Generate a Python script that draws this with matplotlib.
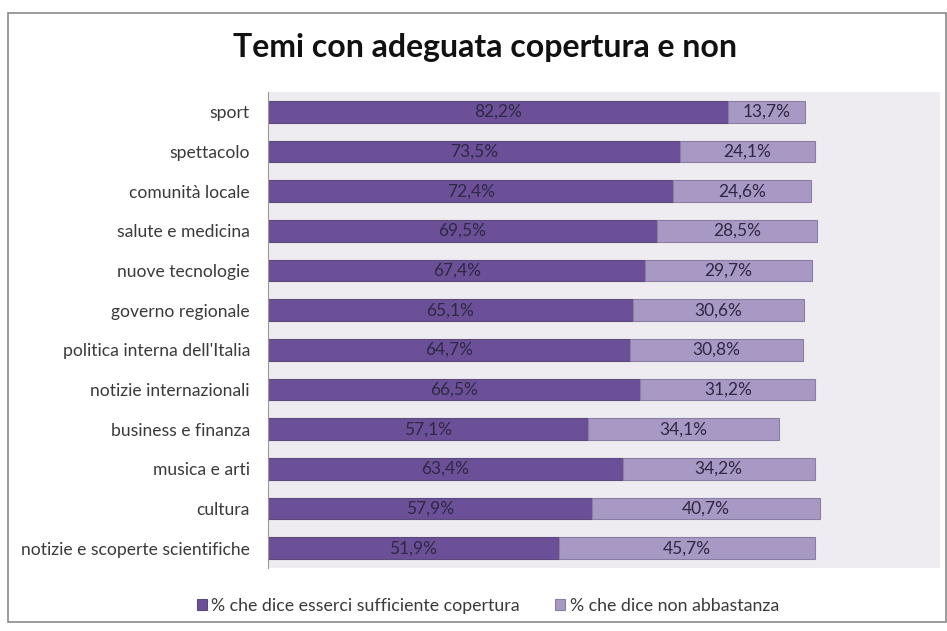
import matplotlib.pyplot as plt
import numpy as np
from matplotlib.patches import Rectangle

temi = ["sport", "spettacolo", "comunità locale", "salute e medicina",
        "nuove tecnologie", "governo regionale", "politica interna dell'Italia",
        "notizie internazionali", "business e finanza", "musica e arti",
        "cultura", "notizie e scoperte scientifiche"]
sufficiente = [82.2, 73.5, 72.4, 69.5, 67.4, 65.1, 64.7, 66.5, 57.1, 63.4, 57.9, 51.9]
non_abbastanza = [13.7, 24.1, 24.6, 28.5, 29.7, 30.6, 30.8, 31.2, 34.1, 34.2, 40.7, 45.7]
serie = ["% che dice esserci sufficiente copertura", "% che dice non abbastanza"]

plt.rcParams['font.family'] = ['Lato', 'DejaVu Sans']

fig = plt.figure(figsize=(9.47, 6.31), dpi=100)
# outer chart frame
fig.patches.append(Rectangle((8/947, 9/631), 938/947, 609/631, transform=fig.transFigure,
                             fill=False, edgecolor='#8a8a8a', linewidth=1.2))

ax = fig.add_axes([268/947, 63/631, 672/947, 476/631])
ax.set_facecolor('#eeebf1')

y = np.arange(len(temi))
h = 0.55
b1 = ax.barh(y, sufficiente, height=h, color='#6b5098', edgecolor='#5b4a7a', linewidth=0.8,
             label=serie[0])
b2 = ax.barh(y, non_abbastanza, left=sufficiente, height=h, color='#a898c4',
             edgecolor='#8a7fa2', linewidth=0.8, label=serie[1])

for bars, vals, lefts in [(b1, sufficiente, [0]*len(temi)), (b2, non_abbastanza, sufficiente)]:
    for yy, v, l in zip(y, vals, lefts):
        ax.text(l + v / 2, yy, f"{v:.1f}%".replace('.', ','), ha='center', va='center',
                fontsize=12.5, color='#2f2845')

ax.set_xlim(0, 120)
ax.set_ylim(len(temi) - 0.5, -0.5)
ax.set_yticks(y)
ax.set_yticklabels(temi, fontsize=12.6, color='#3a3a3a')
ax.tick_params(axis='y', length=0, pad=13)
ax.set_xticks([])
for s in ['top', 'right', 'bottom']:
    ax.spines[s].set_visible(False)
ax.spines['left'].set_color('#9a9a9a')
ax.spines['left'].set_linewidth(0.8)

fig.text(485/947, 1 - 48/631, "Temi con adeguata copertura e non", ha='center', va='center',
         fontsize=23, fontweight='bold', color='#111111')

fig.legend(handles=[b1, b2], loc='center', bbox_to_anchor=(488/947, 1 - 606/631), ncol=2,
           frameon=False, fontsize=12.8, handlelength=0.55, handleheight=0.55,
           handletextpad=0.25, columnspacing=2.0, labelcolor='#3a3a3a')

fig.savefig('out.png', dpi=100)
